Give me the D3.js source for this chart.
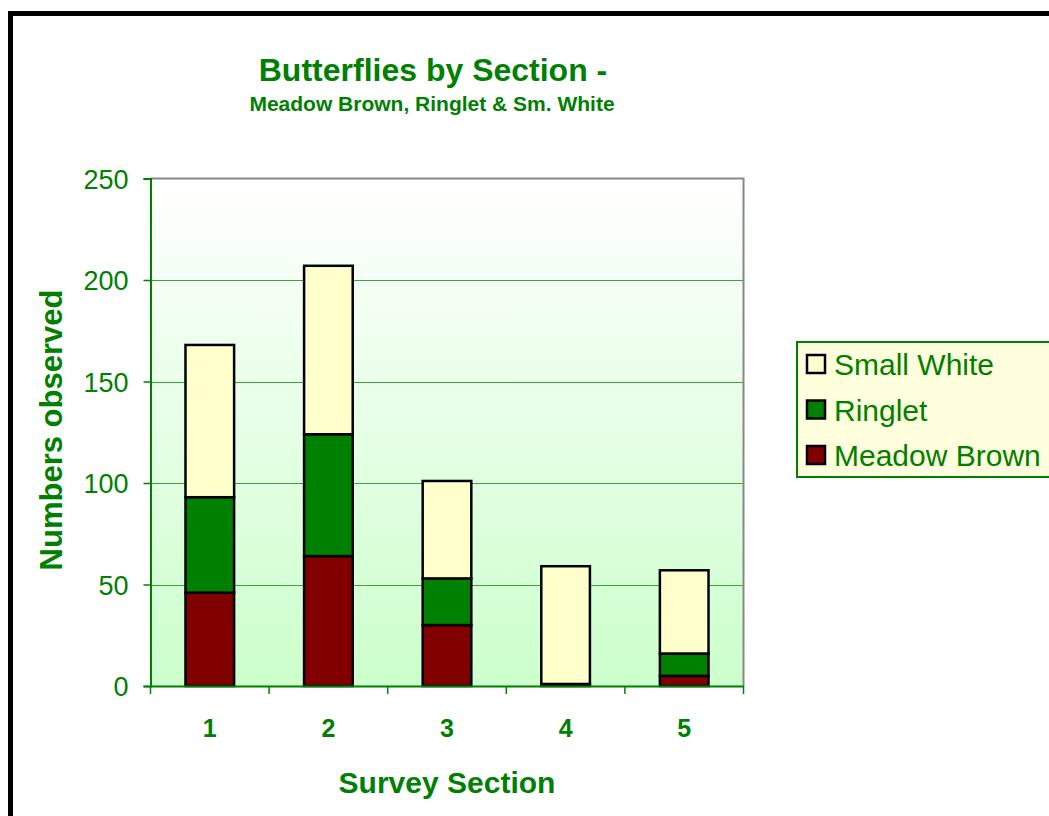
<!DOCTYPE html>
<html>
<head>
<meta charset="utf-8">
<script src="https://cdn.jsdelivr.net/npm/d3@7"></script>
<style>
  html, body { margin: 0; padding: 0; background: #fff; }
  svg { display: block; }
  text { font-family: "Liberation Sans", Arial, sans-serif; }
</style>
</head>
<body>
<svg id="chart" width="1049" height="816"></svg>
<script>
// ---- data ----
const sections = ["1", "2", "3", "4", "5"];
const seriesNames = ["Meadow Brown", "Ringlet", "Small White"];
const meadowBrown = [46, 64, 30, 0, 5];
const ringlet = [47, 60, 23, 1, 11];
const smallWhite = [75, 83, 48, 58, 41];
const yTicks = [0, 50, 100, 150, 200, 250];
const seriesColors = ["#800000", "#008000", "#FFFFCC"];

const rows = sections.map((s, i) => ({
  section: s,
  "Meadow Brown": meadowBrown[i],
  "Ringlet": ringlet[i],
  "Small White": smallWhite[i]
}));

const svg = d3.select("#chart");
const green = "#008000";

// outer chart border
svg.append("rect")
  .attr("x", 10.5).attr("y", 13.5)
  .attr("width", 1100).attr("height", 900)
  .attr("fill", "#fff").attr("stroke", "#000").attr("stroke-width", 5);

const plot = { left: 150.5, right: 743.5, top: 178.5, bottom: 686 };

const x = d3.scaleBand().domain(sections).range([plot.left, plot.right]).paddingInner(0.59).paddingOuter(0.295);
const xOuter = d3.scaleBand().domain(sections).range([plot.left, plot.right]);
const y = d3.scaleLinear().domain([0, 250]).range([plot.bottom, plot.top]);

// gradient background
const defs = svg.append("defs");
const grad = defs.append("linearGradient").attr("id", "bg").attr("x1", 0).attr("y1", 0).attr("x2", 0).attr("y2", 1);
grad.append("stop").attr("offset", "0%").attr("stop-color", "#ffffff");
grad.append("stop").attr("offset", "100%").attr("stop-color", "#ccffcc");

svg.append("rect")
  .attr("x", plot.left).attr("y", plot.top)
  .attr("width", plot.right - plot.left).attr("height", plot.bottom - plot.top)
  .attr("fill", "url(#bg)");

// gridlines
svg.append("g").selectAll("line")
  .data(yTicks.filter(t => t > 0 && t < 250))
  .join("line")
  .attr("x1", plot.left).attr("x2", plot.right)
  .attr("y1", d => Math.round(y(d)) + 0.5).attr("y2", d => Math.round(y(d)) + 0.5)
  .attr("stroke", "#3aa53a").attr("stroke-width", 1.2);

// plot border (top, right) gray
svg.append("path")
  .attr("d", `M${plot.left},${plot.top}H${plot.right}V${plot.bottom}`)
  .attr("fill", "none").attr("stroke", "#888").attr("stroke-width", 2);

// stacked bars
const stack = d3.stack().keys(seriesNames)(rows);
const color = d3.scaleOrdinal().domain(seriesNames).range(seriesColors);

svg.append("g").selectAll("g")
  .data(stack)
  .join("g")
  .attr("fill", d => color(d.key))
  .selectAll("rect")
  .data(d => d.filter(p => p[1] - p[0] > 0))
  .join("rect")
  .attr("x", d => x(d.data.section))
  .attr("width", x.bandwidth())
  .attr("y", d => y(d[1]))
  .attr("height", d => y(d[0]) - y(d[1]))
  .attr("stroke", "#000")
  .attr("stroke-width", 2.5);

// y axis
const yAxis = svg.append("g")
  .attr("transform", `translate(${plot.left},0)`)
  .call(d3.axisLeft(y).tickValues(yTicks).tickSize(7).tickPadding(15).tickFormat(d3.format("d")));
yAxis.select(".domain").attr("stroke", green).attr("stroke-width", 2);
yAxis.selectAll(".tick line").attr("stroke", green).attr("stroke-width", 1.5);
yAxis.selectAll(".tick text")
  .attr("fill", green).attr("font-size", 27).attr("font-family", "Liberation Sans, Arial, sans-serif")
  .attr("dy", "0.36em");

// x axis
const xAxis = svg.append("g")
  .attr("transform", `translate(0,${plot.bottom})`)
  .call(d3.axisBottom(xOuter).tickSize(0).tickPadding(33));
xAxis.select(".domain").attr("stroke", green).attr("stroke-width", 2);
xAxis.selectAll(".tick text")
  .attr("fill", green).attr("font-size", 25).attr("font-weight", "bold")
  .attr("font-family", "Liberation Sans, Arial, sans-serif");

// x tick marks at band boundaries
const boundaries = sections.map(s => xOuter(s)).concat([plot.right]);
svg.append("g").selectAll("line")
  .data(boundaries)
  .join("line")
  .attr("x1", d => d).attr("x2", d => d)
  .attr("y1", plot.bottom).attr("y2", plot.bottom + 8)
  .attr("stroke", green).attr("stroke-width", 1.5);

// titles
svg.append("text")
  .attr("x", 433).attr("y", 81)
  .attr("text-anchor", "middle")
  .attr("fill", green).attr("font-weight", "bold").attr("font-size", 32)
  .text("Butterflies by Section -");
svg.append("text")
  .attr("x", 432).attr("y", 111)
  .attr("text-anchor", "middle")
  .attr("fill", green).attr("font-weight", "bold").attr("font-size", 21)
  .text("Meadow Brown, Ringlet & Sm. White");

svg.append("text")
  .attr("transform", "translate(62,430) rotate(-90)")
  .attr("text-anchor", "middle")
  .attr("fill", green).attr("font-weight", "bold").attr("font-size", 31)
  .text("Numbers observed");

svg.append("text")
  .attr("x", 447).attr("y", 793)
  .attr("text-anchor", "middle")
  .attr("fill", green).attr("font-weight", "bold").attr("font-size", 30)
  .text("Survey Section");

// legend
const legend = svg.append("g");
legend.append("rect")
  .attr("x", 797).attr("y", 342)
  .attr("width", 300).attr("height", 135)
  .attr("fill", "#FFFFDD").attr("stroke", green).attr("stroke-width", 2);

const legendOrder = seriesNames.slice().reverse();
const li = legend.selectAll("g.item")
  .data(legendOrder)
  .join("g")
  .attr("class", "item")
  .attr("transform", (d, i) => `translate(0,${364 + i * 45.5})`);
li.append("rect")
  .attr("x", 807).attr("y", -9)
  .attr("width", 18).attr("height", 18)
  .attr("fill", d => color(d)).attr("stroke", "#000").attr("stroke-width", 2.5);
li.append("text")
  .attr("x", 834).attr("y", 11)
  .attr("fill", green).attr("font-size", 30)
  .text(d => d);
</script>
</body>
</html>
